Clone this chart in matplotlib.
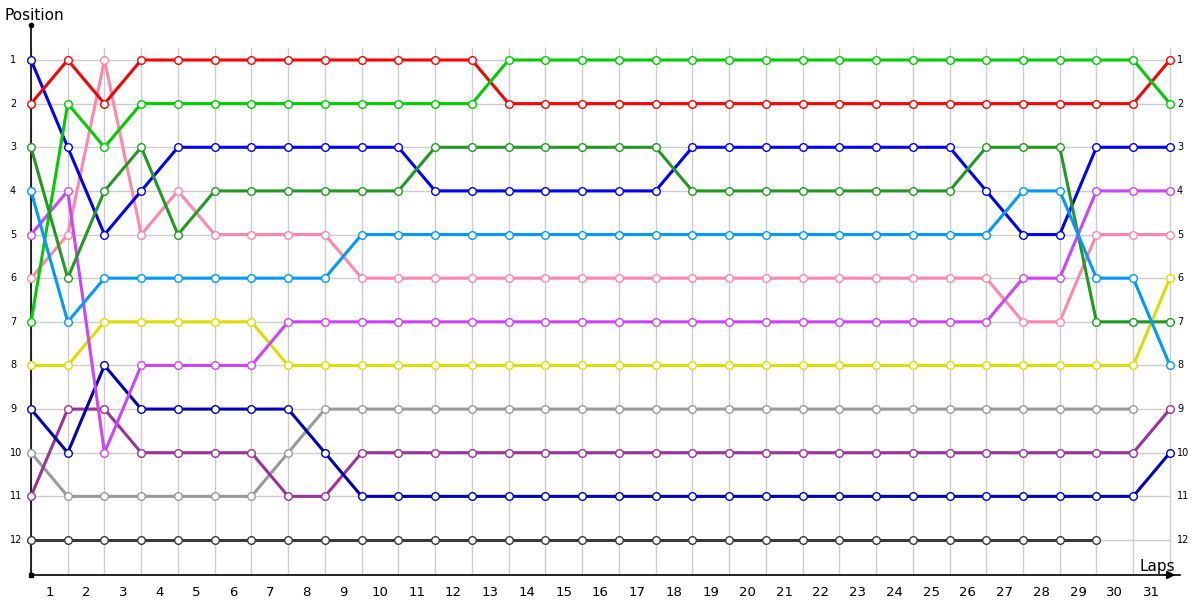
import matplotlib
matplotlib.use('Agg')
import matplotlib.pyplot as plt

# positions after each lap (index 0 = start), None = retired
red        = [2, 1, 2] + [1] * 10 + [2] * 18 + [1]
green      = [7, 2, 3] + [2] * 10 + [1] * 18 + [2]
blue       = [1, 3, 5, 4] + [3] * 7 + [4] * 7 + [3] * 8 + [4, 5, 5, 3, 3, 3]
dark_green = [3, 6, 4, 3, 5] + [4] * 6 + [3] * 7 + [4] * 8 + [3, 3, 3, 7, 7, 7]
light_blue = [4, 7] + [6] * 7 + [5] * 18 + [4, 4, 6, 6, 8]
pink       = [6, 5, 1, 5, 4] + [5] * 4 + [6] * 18 + [7, 7, 5, 5, 5]
magenta    = [5, 4, 10] + [8] * 4 + [7] * 20 + [6, 6, 4, 4, 4]
yellow     = [8, 8] + [7] * 5 + [8] * 24 + [6]
navy       = [9, 10, 8] + [9] * 5 + [10] + [11] * 22 + [10]
purple     = [11, 9, 9] + [10] * 4 + [11, 11] + [10] * 22 + [9]
gray       = [10] + [11] * 6 + [10] + [9] * 23
dark_gray  = [12] * 30

series = [
    (dark_gray, '#3a3a3a'),
    (gray, '#9a9a9a'),
    (purple, '#993399'),
    (navy, '#0000bb'),
    (yellow, '#dddd00'),
    (pink, '#ff88aa'),
    (magenta, '#cc44ff'),
    (blue, '#0000ff'),
    (red, '#ff0000'),
    (green, '#00cc00'),
    (dark_green, '#229922'),
    (light_blue, '#0099ff'),
]

laps = list(range(1, 32))
positions = list(range(1, 13))

fig = plt.figure(figsize=(12, 6), dpi=100)
ax = fig.add_axes([31 / 1200, 25 / 600, 1149 / 1200, 550 / 600])

x_max = 1149 / 36.74
ax.set_xlim(0, x_max)
ax.set_ylim(12 + 35 / 43.64, 1 - 35 / 43.64)

# grid
ax.vlines(range(0, 32), 1 - 13 / 43.64, 12 + 35 / 43.64, color='#cccccc', lw=1, zorder=1)
ax.hlines(positions, 0, 31, color='#cccccc', lw=1, zorder=1)

for vals, col in series:
    xs = list(range(len(vals)))
    ax.plot(xs, vals, color=col, lw=2.2, marker='o', markersize=5.5,
            markerfacecolor='white', markeredgecolor=col, markeredgewidth=1.0,
            zorder=3, clip_on=False)

for sp in ['top', 'right']:
    ax.spines[sp].set_visible(False)
ax.spines['left'].set_linewidth(1.2)
ax.spines['bottom'].set_linewidth(1.2)

ax.set_xticks([l - 0.5 for l in laps])
ax.set_xticklabels([str(l) for l in laps], fontsize=9.5)
ax.tick_params(axis='x', length=0, pad=8)
ax.set_yticks([])

ytr = ax.get_yaxis_transform()
for p in positions:
    ax.text(-21 / 1149, p, str(p), transform=ytr, fontsize=7, ha='left', va='center')
    ax.text(1177 / 1149 - 31 / 1149, p, str(p), transform=ytr, fontsize=7, ha='left', va='center')

# axis decorations
ax.plot([0], [1 - 35 / 43.64], marker='o', markersize=3, color='black', clip_on=False, zorder=5)
ax.plot([0], [12 + 35 / 43.64], marker='s', markersize=3, color='black', clip_on=False, zorder=5)
ax.annotate('', xy=(x_max - 0.05, 12 + 35 / 43.64), xytext=(x_max - 0.5, 12 + 35 / 43.64),
            arrowprops=dict(arrowstyle='-|>', color='black', lw=1.2, mutation_scale=12),
            annotation_clip=False)

fig.text(5 / 1200, 1 - 16 / 600, 'Position', fontsize=11, ha='left', va='center')
fig.text(1175 / 1200, 1 - 566 / 600, 'Laps', fontsize=11, ha='right', va='center')

fig.savefig('out.png', dpi=100)
